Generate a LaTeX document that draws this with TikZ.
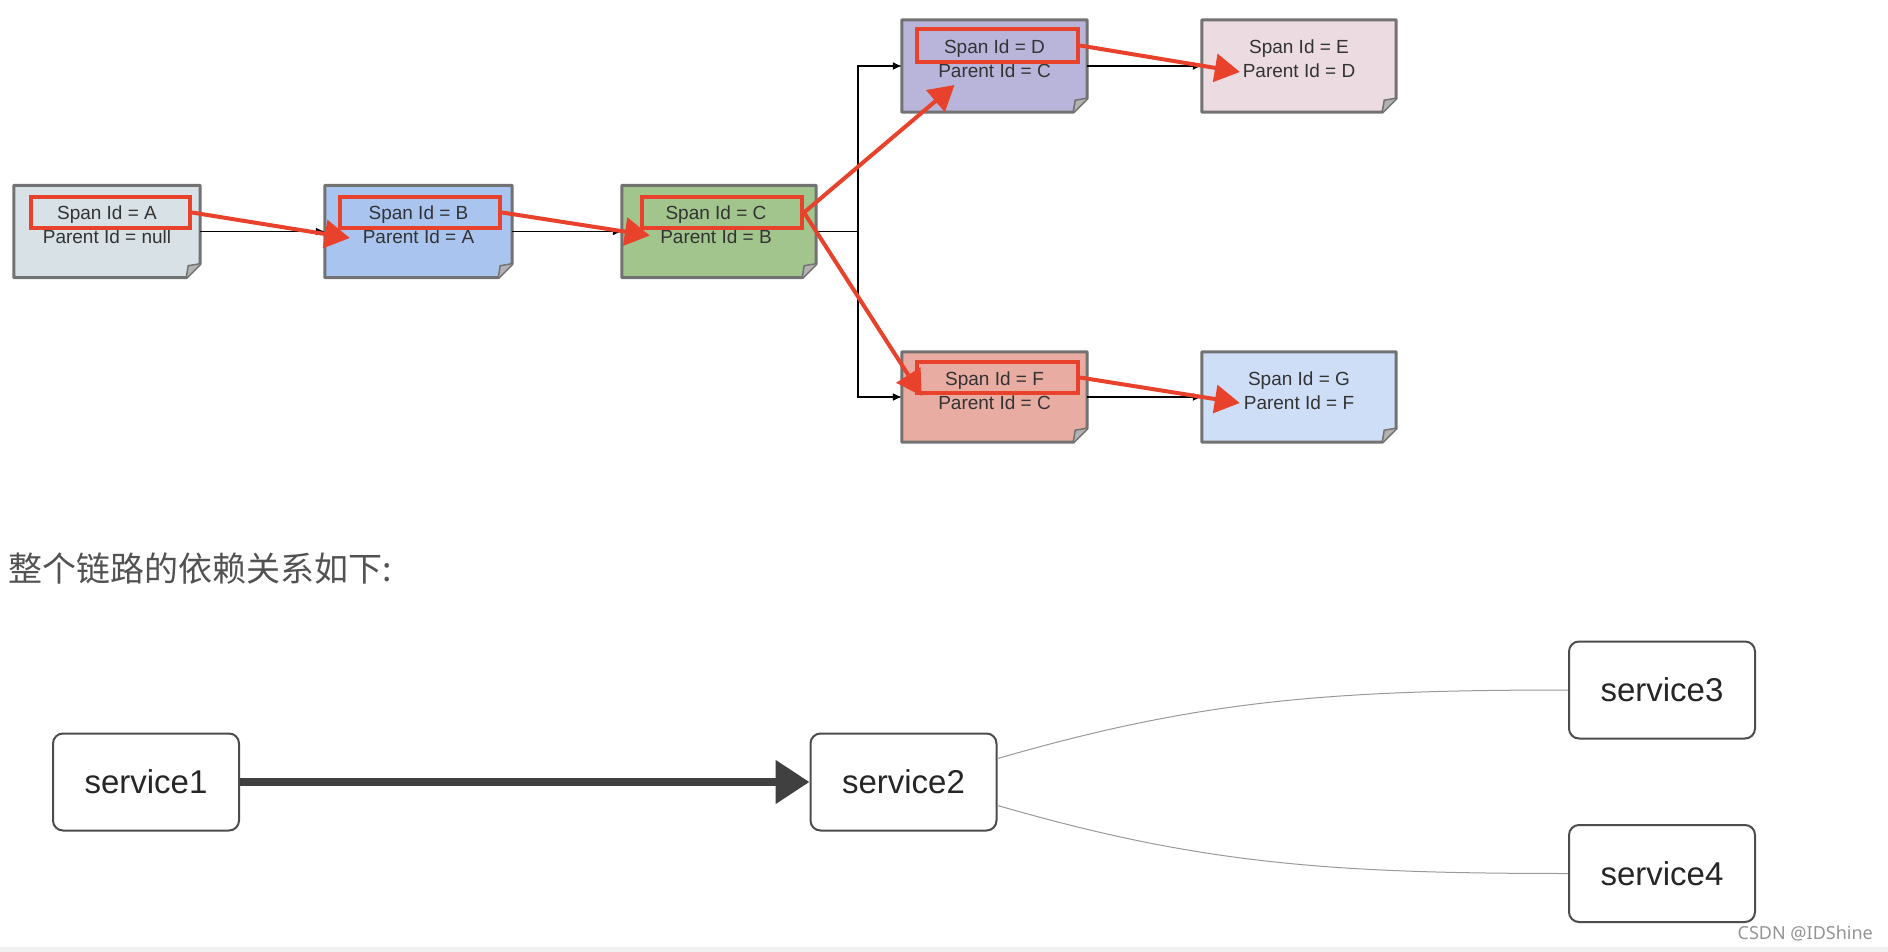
\documentclass[tikz,border=0pt]{standalone}
\usepackage{fontspec}
\setmainfont{Liberation Sans}
\newfontfamily\cjkfont{Noto Sans CJK SC}
\newfontfamily\wmfont{Noto Sans}
\usetikzlibrary{arrows.meta,calc}
\definecolor{cA}{HTML}{D8E1E6}
\definecolor{cB}{HTML}{AAC4F0}
\definecolor{cC}{HTML}{A2C48D}
\definecolor{cD}{HTML}{B9B5DA}
\definecolor{cE}{HTML}{ECDCE2}
\definecolor{cF}{HTML}{E8ACA2}
\definecolor{cG}{HTML}{CFDEF7}
\definecolor{hired}{HTML}{E8412C}
\definecolor{boxgray}{HTML}{727272}
\definecolor{txtgray}{HTML}{333333}
\tikzset{
  spanbox/.style={minimum width=186, minimum height=92, inner sep=0, draw=none},
  spantext/.style={font=\fontsize{19}{24}\selectfont, align=center, text=txtgray, inner sep=0},
  hilite/.style={draw=hired, line width=4, minimum height=31, inner sep=0},
  outline/.style={draw=boxgray, line width=3, line join=round},
  conn/.style={draw=black, line width=1.3},
  connarrow/.style={conn, -{Latex[length=9,width=8]}},
  redarrow/.style={draw=hired, line width=4, -{Triangle[length=25,width=28]}},
  svc/.style={draw=black!70, line width=2, rounded corners=10, fill=white, minimum width=186, minimum height=97, font=\fontsize{33}{38}\selectfont, text=black!85},
  bigarrow/.style={draw=black!75, line width=8, -{Triangle[length=34,width=42]}},
  thin/.style={draw=black!40, line width=1}
}
\begin{document}
\begin{tikzpicture}[x=1pt,y=-1pt]
\useasboundingbox (0,0) rectangle (1888,952);
\fill[white] (0,0) rectangle (1888,952);
\fill[black!6] (0,947) rectangle (1888,952);

% span boxes
\node[spanbox] (A) at (107,231.5) {};
\node[spanbox, minimum width=187] (B) at (418.5,231.5) {};
\node[spanbox, minimum width=194] (C) at (719,231.5) {};
\node[spanbox, minimum width=185] (D) at (994.5,66) {};
\node[spanbox, minimum width=194] (E) at (1299,66) {};
\node[spanbox, minimum width=185, minimum height=90] (F) at (994.5,397) {};
\node[spanbox, minimum width=194, minimum height=90] (G) at (1299,397) {};

\foreach \n/\c in {A/cA,B/cB,C/cC,D/cD,E/cE,F/cF,G/cG}{
  \draw[outline, fill=\c] (\n.north west) -- (\n.north east) -- ($(\n.south east)+(0,-14)$) -- ($(\n.south east)+(-14,0)$) -- (\n.south west) -- cycle;
  \fill[black!30] ($(\n.south east)+(0,-14)$) -- ($(\n.south east)+(-14,0)$) -- ($(\n.south east)+(-12,-12)$) -- cycle;
  \draw[boxgray, line width=1.5] ($(\n.south east)+(-14,0)$) -- ($(\n.south east)+(-12,-12)$) -- ($(\n.south east)+(0,-14)$);
}

% texts
\node[spantext] (At) at ($(A.center)+(0,-6.5)$) {Span Id = A\\Parent Id = null};
\node[spantext] (Bt) at ($(B.center)+(0,-6.5)$) {Span Id = B\\Parent Id = A};
\node[spantext] (Ct) at ($(C.center)+(-3,-6.5)$) {Span Id = C\\Parent Id = B};
\node[spantext] (Dt) at ($(D.center)+(0,-7)$) {Span Id = D\\Parent Id = C};
\node[spantext] (Et) at ($(E.center)+(0,-7)$) {Span Id = E\\Parent Id = D};
\node[spantext] (Ft) at ($(F.center)+(0,-6.5)$) {Span Id = F\\Parent Id = C};
\node[spantext] (Gt) at ($(G.center)+(0,-6.5)$) {Span Id = G\\Parent Id = F};

% black connectors
\coordinate (J) at (858,231.5);
\draw[connarrow] (A.east) -- (B.west);
\draw[connarrow] (B.east) -- (C.west);
\draw[conn] (C.east) -- (J);
\draw[connarrow] (J) |- (D.west);
\draw[connarrow] (J) |- (F.west);
\draw[connarrow] (D.east) -- (E.west);
\draw[connarrow] (F.east) -- (G.west);

% red highlight rectangles
\node[hilite, minimum width=159] (rA) at (110.5,212.5) {};
\node[hilite, minimum width=160] (rB) at (420,212.5) {};
\node[hilite, minimum width=160] (rC) at (722,212.5) {};
\node[hilite, minimum width=161, minimum height=33] (rD) at (997.5,45.5) {};
\node[hilite, minimum width=161] (rF) at (997.5,377.5) {};

% red arrows
\coordinate (tB) at ($(B.west)+(25,6.5)$);
\coordinate (tC) at ($(C.west)+(28,4)$);
\coordinate (tD) at ($(D.center)+(-40,19)$);
\coordinate (tF) at ($(F.west)+(20,-1)$);
\coordinate (tE) at ($(E.west)+(38,6)$);
\coordinate (tG) at ($(G.west)+(38,6)$);
\draw[redarrow] (rA.east) -- (tB);
\draw[redarrow] (rB.east) -- (tC);
\draw[redarrow] (rC.east) -- (tD);
\draw[redarrow] (rC.east) -- (tF);
\draw[redarrow] (rD.east) -- (tE);
\draw[redarrow] (rF.east) -- (tG);

% heading
\node[anchor=west, inner sep=0, text=black!68, font=\cjkfont\fontsize{34}{38}\selectfont] (head) at (8,569) {整个链路的依赖关系如下:};

% services
\node[svc] (s1) at (146,782) {service1};
\node[svc] (s2) at (903.5,782) {service2};
\node[svc] (s3) at (1662,690) {service3};
\node[svc] (s4) at (1662,873.5) {service4};
\draw[bigarrow] (s1.east) -- (s2.west);
\draw[thin] (s2.14) .. controls +(200,-58) and +(-240,0) .. (s3.west);
\draw[thin] (s2.-14) .. controls +(200,58) and +(-240,0) .. (s4.west);

% watermark
\node[anchor=east, inner sep=0, text=black!42, font=\wmfont\fontsize{18}{20}\selectfont] (wm) at (1873,933) {CSDN @IDShine};
\end{tikzpicture}
\end{document}
